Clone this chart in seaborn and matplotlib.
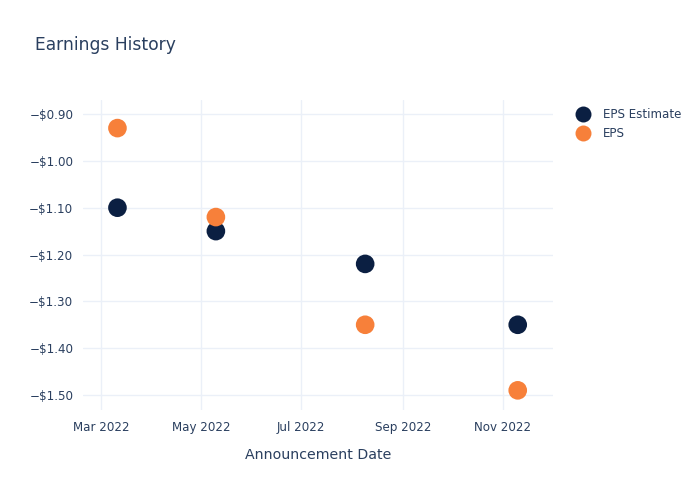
import matplotlib
matplotlib.use("Agg")
import matplotlib.pyplot as plt
import matplotlib.dates as mdates
from matplotlib.ticker import FuncFormatter
from matplotlib.lines import Line2D
import seaborn as sns
import pandas as pd

dates = ["2022-03-11", "2022-05-10", "2022-08-09", "2022-11-10"]
eps_estimate = [-1.10, -1.15, -1.22, -1.35]
eps_actual = [-0.93, -1.12, -1.35, -1.49]
series_names = ["EPS Estimate", "EPS"]
colors = ["#0b1f42", "#f7803a"]

df = pd.DataFrame({
    "date": pd.to_datetime(dates * 2),
    "value": eps_estimate + eps_actual,
    "series": [series_names[0]] * len(dates) + [series_names[1]] * len(dates),
})

sns.set_style("white")
plt.rcParams["font.family"] = ["DejaVu Sans"]
text_color = "#2a3f5f"
grid_color = "#ebf0f8"

fig = plt.figure(figsize=(7, 5), dpi=100)
ax = fig.add_axes([83 / 700, 1 - 410 / 500, (553 - 83) / 700, (410 - 100) / 500])

sns.scatterplot(data=df, x="date", y="value", hue="series", hue_order=series_names,
                palette=colors, s=180, linewidth=0, ax=ax, legend=False, zorder=3)

ax.set_xlim(pd.Timestamp("2022-02-18"), pd.Timestamp("2022-12-01 12:00"))
ax.set_ylim(-1.532, -0.870)
ax.set_yticks([-0.9, -1.0, -1.1, -1.2, -1.3, -1.4, -1.5])
ax.yaxis.set_major_formatter(FuncFormatter(lambda v, p: ("\u2212" if v < 0 else "") + "${:.2f}".format(abs(v))))
ax.xaxis.set_major_locator(mdates.MonthLocator(bymonth=[3, 5, 7, 9, 11]))
ax.xaxis.set_major_formatter(mdates.DateFormatter("%b %Y"))

ax.grid(True, color=grid_color, linewidth=1.0, zorder=0)
ax.set_axisbelow(True)
for s in ax.spines.values():
    s.set_visible(False)
ax.tick_params(axis="both", length=0, labelsize=8.6, colors=text_color)
ax.tick_params(axis="x", pad=8)
ax.tick_params(axis="y", pad=7)

ax.set_xlabel("Announcement Date", fontsize=10.2, color=text_color, labelpad=10)
ax.set_ylabel("")

fig.text(35 / 700, 1 - 44.5 / 500, "Earnings History", fontsize=12.3, color=text_color,
         ha="left", va="center")

handles = [Line2D([0], [0], marker="o", linestyle="", markersize=11.5,
                  markerfacecolor=c, markeredgewidth=0) for c in colors]
fig.legend(handles, series_names, loc="upper left", bbox_to_anchor=(571 / 700, 1 - 103 / 500),
           frameon=False, fontsize=8.6, labelcolor=text_color, handletextpad=1.1,
           labelspacing=0.55, borderaxespad=0, handlelength=1.2)

fig.savefig("out.png", dpi=100)
